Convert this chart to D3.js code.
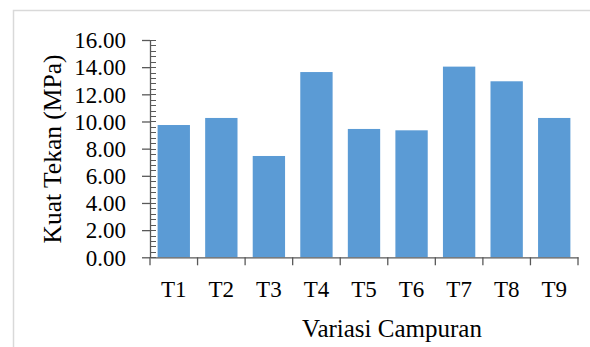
<!DOCTYPE html>
<html>
<head>
<meta charset="utf-8">
<script src="https://cdn.jsdelivr.net/npm/d3@7"></script>
<style>
  html, body { margin: 0; padding: 0; background: #fff; }
  svg { display: block; }
  text { font-family: "Times New Roman", Times, serif; fill: #000; }
</style>
</head>
<body>
<script>
// Compressive strength per mix variation
const categories = ["T1", "T2", "T3", "T4", "T5", "T6", "T7", "T8", "T9"];
const strength = [9.74, 10.26, 7.46, 13.64, 9.45, 9.35, 14.04, 12.96, 10.26];
const yTicks = [0, 2, 4, 6, 8, 10, 12, 14, 16];
const xTitle = "Variasi Campuran";
const yTitle = "Kuat Tekan (MPa)";

const W = 590, H = 347;
const plotLeft = 150, plotRight = 578, plotTop = 40, plotBottom = 257.3;
const axisColor = "#595959";
const serif = "'Times New Roman', Times, serif";

const svg = d3.select("body").append("svg")
  .attr("width", W).attr("height", H);

// outer chart frame
svg.append("rect")
  .attr("x", 13.5).attr("y", 10.5)
  .attr("width", 600).attr("height", 360)
  .attr("fill", "none").attr("stroke", "#d9d9d9").attr("stroke-width", 1.5);

const x = d3.scaleBand().domain(categories).range([plotLeft, plotRight])
  .paddingInner(0.32).paddingOuter(0.16);
const xb = d3.scaleBand().domain(categories).range([plotLeft, plotRight]);
const y = d3.scaleLinear().domain([0, 16]).range([plotBottom, plotTop]);

// bars
svg.append("g").selectAll("rect").data(categories).join("rect")
  .attr("x", d => x(d))
  .attr("width", x.bandwidth())
  .attr("y", (d, i) => y(strength[i]))
  .attr("height", (d, i) => y(0) - y(strength[i]))
  .attr("fill", "#5b9bd5");

// minor ticks on the value axis (inside)
const minor = d3.range(0, 16.001, 0.4);
svg.append("g").selectAll("line").data(minor).join("line")
  .attr("x1", plotLeft).attr("x2", plotLeft + 6)
  .attr("y1", d => Math.round(y(d)) + 0.5).attr("y2", d => Math.round(y(d)) + 0.5)
  .attr("stroke", axisColor).attr("stroke-width", 1);

// value axis
const yAxis = svg.append("g").attr("transform", `translate(${plotLeft},0)`)
  .call(d3.axisLeft(y).tickValues(yTicks).tickSize(8).tickSizeOuter(0)
    .tickFormat(d3.format(".2f")));
yAxis.attr("font-family", serif);
yAxis.select(".domain").attr("stroke", axisColor).attr("stroke-width", 1.3);
yAxis.selectAll(".tick line").attr("stroke", axisColor).attr("stroke-width", 1.3)
  .attr("x2", -8);
yAxis.selectAll(".tick text")
  .attr("x", -24).attr("dy", "0.34em")
  .style("font-size", "23px").style("font-family", serif)
  .attr("fill", "#000");

// category axis
const xAxis = svg.append("g").attr("transform", `translate(0,${plotBottom})`)
  .call(d3.axisBottom(xb).tickSize(0).tickSizeOuter(0));
xAxis.attr("font-family", serif);
xAxis.select(".domain").attr("stroke", axisColor).attr("stroke-width", 1.3);
xAxis.selectAll(".tick text")
  .attr("y", 39.5).attr("dy", 0)
  .style("font-size", "23px").style("font-family", serif)
  .attr("fill", "#000");
// boundary ticks between categories
const bounds = categories.map(c => xb(c)).concat([plotRight]);
svg.append("g").selectAll("line").data(bounds).join("line")
  .attr("x1", d => d).attr("x2", d => d)
  .attr("y1", plotBottom).attr("y2", plotBottom + 8)
  .attr("stroke", axisColor).attr("stroke-width", 1.3);

// axis titles
svg.append("text")
  .attr("x", 392).attr("y", 336.5)
  .attr("text-anchor", "middle")
  .style("font-size", "25px")
  .text(xTitle);

svg.append("text")
  .attr("transform", "translate(61,149) rotate(-90)")
  .attr("text-anchor", "middle")
  .style("font-size", "25.5px")
  .text(yTitle);
</script>
</body>
</html>
